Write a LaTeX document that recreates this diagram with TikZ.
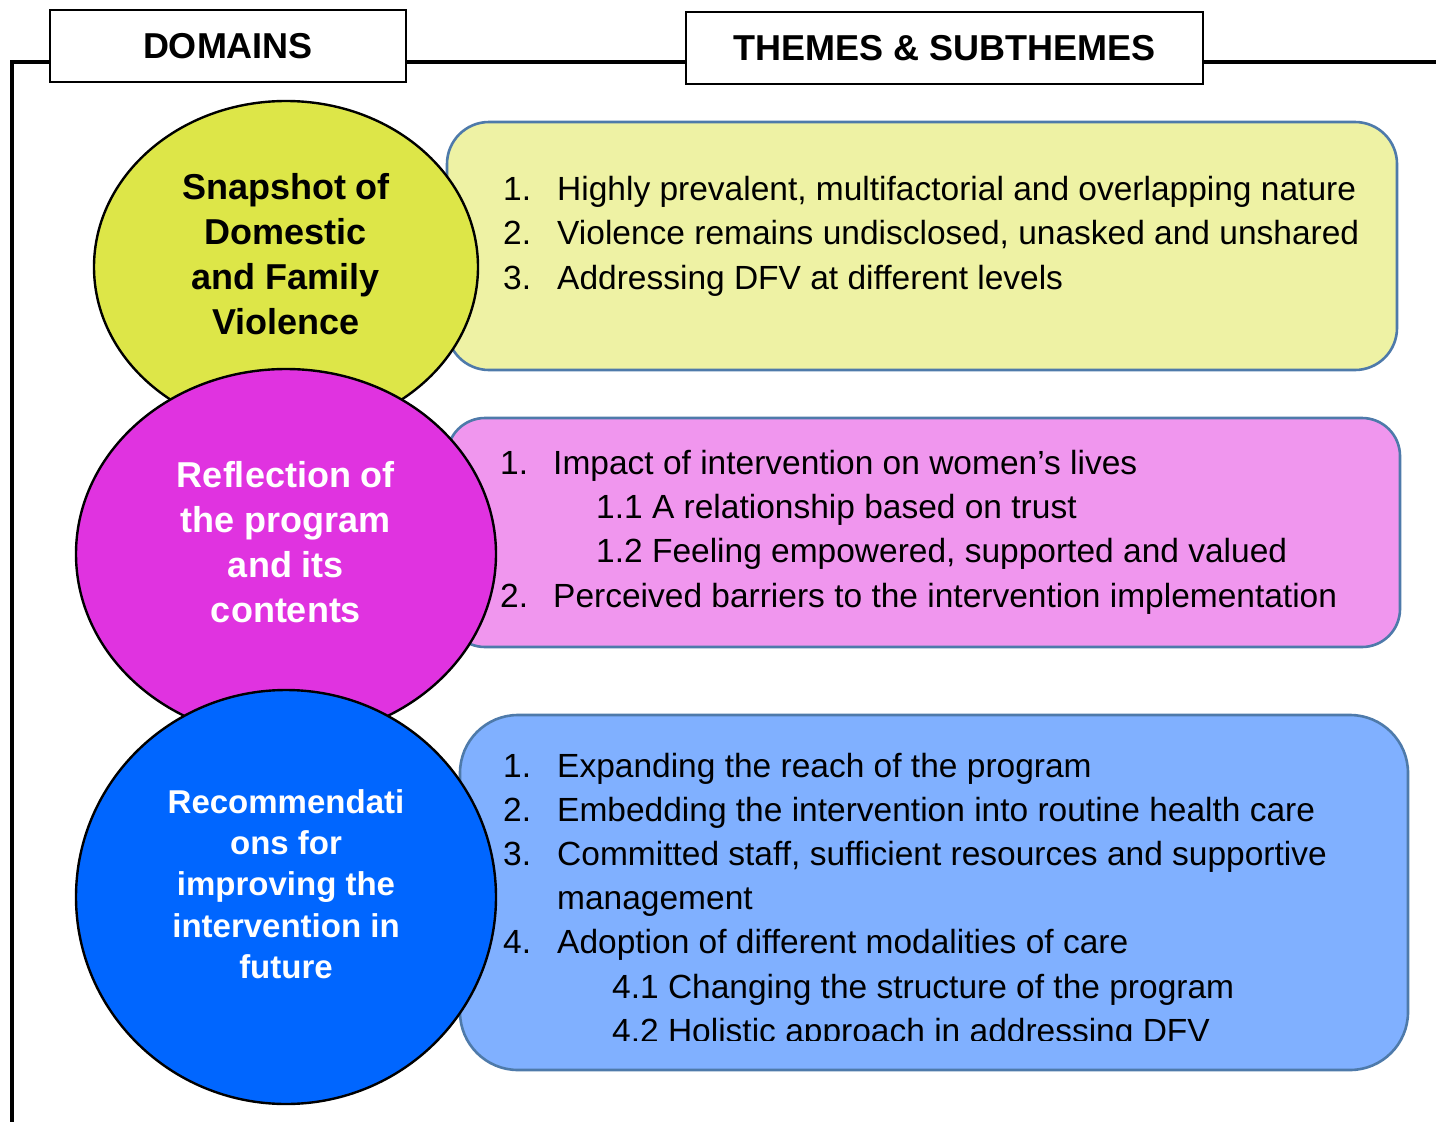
\documentclass[tikz,border=0pt]{standalone}
\usepackage{fontspec}
\setmainfont{Liberation Sans}
\usetikzlibrary{shapes.geometric}

\definecolor{yelcirc}{RGB}{221,230,72}
\definecolor{yelbox}{RGB}{238,242,164}
\definecolor{magcirc}{RGB}{224,51,224}
\definecolor{magbox}{RGB}{240,150,238}
\definecolor{bluecirc}{RGB}{0,102,255}
\definecolor{bluebox}{RGB}{128,176,255}
\definecolor{boxedge}{RGB}{78,122,170}

\begin{document}
\begin{tikzpicture}[x=1pt,y=-1pt,
  header/.style={draw=black,line width=2pt,fill=white,inner sep=0pt,
    font=\fontsize{36}{40}\selectfont\bfseries},
  themebox/.style={draw=boxedge,line width=2.6pt},
  domainshape/.style={ellipse,draw=black,line width=2.4pt,inner sep=0pt},
  domtext/.style={align=center,inner sep=0pt},
  item/.style={anchor=base west,inner sep=0pt,font=\fontsize{33.5}{40}\selectfont}]

  % page
  \useasboundingbox[fill=white] (0,0) rectangle (1436,1122);

  % frame lines
  \coordinate (ftop) at (12,62);
  \coordinate (fbot) at (12,1122);
  \coordinate (fright) at (1436,62);
  \draw[line width=4.6pt] (fbot) -- (ftop) -- (fright);

  % column headings
  \node[header,minimum width=356pt,minimum height=72pt] (hdom) at (228,46) {DOMAINS};
  \node[header,minimum width=517pt,minimum height=72pt] (hthm) at (944.5,48) {THEMES \& SUBTHEMES};

  % theme boxes
  \draw[themebox,fill=yelbox,rounded corners=42pt] (447,122) rectangle (1397,370);
  \draw[themebox,fill=magbox,rounded corners=38pt] (447,418) rectangle (1400,647);
  \draw[themebox,fill=bluebox,rounded corners=58pt] (460,715) rectangle (1408,1070);

  % domain ellipses
  \node[domainshape,fill=yelcirc,minimum width=384pt,minimum height=332pt] (dsnap) at (286,267) {};
  \node[domainshape,fill=magcirc,minimum width=420pt,minimum height=370pt] (drefl) at (286,554) {};
  \node[domainshape,fill=bluecirc,minimum width=420pt,minimum height=414pt] (drec) at (286,897) {};

  % domain labels
  \node[domtext,font=\fontsize{36}{45}\selectfont\bfseries] (tsnap) at (286,254)
    {Snapshot of\\Domestic\\and Family\\Violence};
  \node[domtext,text=white,font=\fontsize{36}{45}\selectfont\bfseries] (trefl) at (286,542)
    {Reflection of\\the program\\and its\\contents};
  \node[domtext,text=white,font=\fontsize{33}{41.3}\selectfont\bfseries] (trec) at (286,884)
    {Recommendati\\ons for\\improving the\\intervention in\\future};

  % themes of the first domain
  \node[item] (y1n) at (503,200) {1.};
  \node[item] (y1)  at (557,200) {Highly prevalent, multifactorial and overlapping nature};
  \node[item] (y2n) at (503,244) {2.};
  \node[item] (y2)  at (557,244) {Violence remains undisclosed, unasked and unshared};
  \node[item] (y3n) at (503,289) {3.};
  \node[item] (y3)  at (557,289) {Addressing DFV at different levels};

  % themes of the second domain
  \node[item] (m1n) at (500,474) {1.};
  \node[item] (m1)  at (553,474) {Impact of intervention on women’s lives};
  \node[item] (m11) at (596,518) {1.1 A relationship based on trust};
  \node[item] (m12) at (596,562) {1.2 Feeling empowered, supported and valued};
  \node[item] (m2n) at (500,607) {2.};
  \node[item] (m2)  at (553,607) {Perceived barriers to the intervention implementation};

  % themes of the third domain
  \node[item] (b1n) at (503,777) {1.};
  \node[item] (b1)  at (557,777) {Expanding the reach of the program};
  \node[item] (b2n) at (503,821) {2.};
  \node[item] (b2)  at (557,821) {Embedding the intervention into routine health care};
  \node[item] (b3n) at (503,865) {3.};
  \node[item] (b3)  at (557,865) {Committed staff, sufficient resources and supportive};
  \node[item] (b3b) at (557,909) {management};
  \node[item] (b4n) at (503,953) {4.};
  \node[item] (b4)  at (557,953) {Adoption of different modalities of care};
  \node[item] (b41) at (612,998) {4.1 Changing the structure of the program};
  \begin{scope}
    \clip (460,715) rectangle (1408,1040);
    \node[item] (b42) at (612,1042) {4.2 Holistic approach in addressing DFV};
  \end{scope}
\end{tikzpicture}
\end{document}
